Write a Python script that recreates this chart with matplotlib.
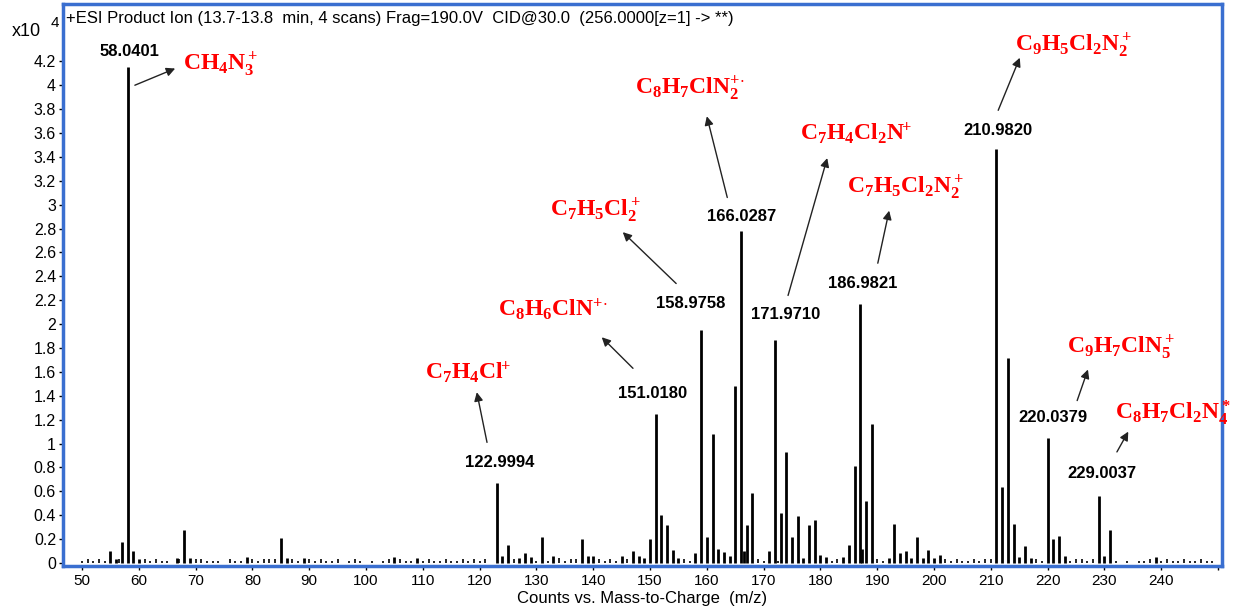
import matplotlib
matplotlib.use("Agg")
import matplotlib.pyplot as plt
import numpy as np

plt.rcParams['font.family'] = ['Liberation Sans', 'DejaVu Sans']
plt.rcParams['mathtext.fontset'] = 'custom'
plt.rcParams['mathtext.rm'] = 'Liberation Serif:bold'
plt.rcParams['mathtext.it'] = 'Liberation Serif:bold'
plt.rcParams['mathtext.bf'] = 'Liberation Serif:bold'
plt.rcParams['mathtext.fallback'] = 'stix'

# ── spectrum peaks (m/z, counts x10^4) ─────────────────────────────────────────
peak_mz = [55.0, 56.0, 57.0, 58.0401, 59.0, 60.0, 66.8, 68.0, 69.0, 79.0,
           85.0, 86.0, 89.0, 105.0, 109.0, 122.9994, 124.0, 125.0, 127.0, 128.0,
           129.0, 131.0, 133.0, 138.0, 139.0, 140.0, 145.0, 147.0, 148.0, 149.0,
           150.0, 151.0180, 152.0, 153.0, 154.0, 155.0, 158.0, 158.9758, 160.0, 161.0,
           162.0, 163.0, 164.0, 165.0, 166.0287, 166.5, 167.0, 168.0, 171.0, 171.9710,
           173.0, 174.0, 175.0, 176.0, 177.0, 178.0, 179.0, 180.0, 181.0, 184.0,
           185.0, 186.0, 186.9821, 187.4, 188.0, 189.0, 192.0, 193.0, 194.0, 195.0,
           196.0, 197.0, 198.0, 199.0, 200.0, 201.0, 210.9820, 212.0, 213.0, 214.0,
           215.0, 216.0, 217.0, 220.0379, 221.0, 222.0, 223.0, 229.0037, 230.0, 231.0,
           239.0]
peak_int = [0.10, 0.03, 0.18, 4.15, 0.10, 0.03, 0.04, 0.28, 0.04, 0.05,
            0.21, 0.04, 0.04, 0.05, 0.04, 0.67, 0.06, 0.15, 0.04, 0.08,
            0.05, 0.22, 0.06, 0.20, 0.06, 0.06, 0.06, 0.10, 0.06, 0.04,
            0.20, 1.25, 0.40, 0.32, 0.11, 0.04, 0.08, 1.95, 0.22, 1.08,
            0.12, 0.09, 0.06, 1.48, 2.78, 0.10, 0.32, 0.59, 0.10, 1.87,
            0.42, 0.93, 0.22, 0.39, 0.04, 0.32, 0.36, 0.07, 0.05, 0.05,
            0.15, 0.81, 2.17, 0.12, 0.52, 1.16, 0.04, 0.33, 0.08, 0.10,
            0.04, 0.22, 0.04, 0.11, 0.04, 0.07, 3.47, 0.64, 1.72, 0.33,
            0.05, 0.14, 0.04, 1.05, 0.20, 0.23, 0.06, 0.56, 0.06, 0.28,
            0.05]

# baseline noise
noise_mz = [50, 51, 52, 53, 54, 56.5, 61, 62, 63, 64, 65, 67, 70, 71, 72, 73, 74,
            76, 77, 78, 80, 81, 82, 83, 84, 87, 88, 90, 91, 92, 93, 94, 95, 97, 98,
            99, 101, 103, 104, 106, 107, 108, 110, 111, 112, 113, 114, 115, 116, 117,
            118, 119, 120, 121, 126, 130, 132, 134, 135, 136, 137, 141, 142, 143, 144,
            146, 156, 157, 169, 170, 172.5, 182, 183, 190, 191, 202, 203, 204, 205, 206,
            207, 208, 209, 210, 218, 219, 224, 225, 226, 227, 228, 232, 234, 236, 237,
            238, 240, 241, 242, 243, 244, 245, 246, 247, 248, 249]
noise_int = [0.02, 0.03, 0.02, 0.03, 0.02, 0.03, 0.03, 0.02, 0.03, 0.02, 0.02, 0.03,
             0.03, 0.03, 0.02, 0.02, 0.02, 0.03, 0.02, 0.02, 0.03, 0.02, 0.03, 0.03,
             0.03, 0.03, 0.02, 0.03, 0.02, 0.03, 0.02, 0.02, 0.03, 0.02, 0.03, 0.02,
             0.02, 0.02, 0.03, 0.03, 0.02, 0.02, 0.02, 0.03, 0.02, 0.02, 0.03, 0.02,
             0.02, 0.03, 0.02, 0.03, 0.02, 0.03, 0.03, 0.02, 0.02, 0.04, 0.02, 0.03,
             0.03, 0.03, 0.02, 0.03, 0.02, 0.03, 0.03, 0.02, 0.03, 0.02, 0.02, 0.02,
             0.03, 0.03, 0.02, 0.03, 0.02, 0.03, 0.02, 0.02, 0.03, 0.02, 0.03, 0.03,
             0.03, 0.02, 0.02, 0.03, 0.03, 0.02, 0.03, 0.02, 0.02, 0.02, 0.02, 0.03,
             0.02, 0.03, 0.02, 0.02, 0.03, 0.02, 0.02, 0.03, 0.02, 0.02]

# ── peak labels (text, x, y) ───────────────────────────────────────────────────
mz_labels = ['58.0401', '122.9994', '151.0180', '158.9758', '166.0287',
             '171.9710', '186.9821', '210.9820', '220.0379', '229.0037']
mz_label_x = [58.4, 123.6, 150.4, 157.2, 166.2, 173.9, 187.5, 211.3, 220.95, 229.6]
mz_label_y = [4.28, 0.845, 1.42, 2.17, 2.90, 2.08, 2.34, 3.62, 1.22, 0.75]

# ── fragment formulas and their arrows ────────────────────────────────────────
formulas = [r'$\mathrm{CH_4N_3^+}$', r'$\mathrm{C_8H_7ClN_2^{+\!\cdot}}$',
            r'$\mathrm{C_7H_5Cl_2^+}$', r'$\mathrm{C_7H_4Cl_2N^{\!\!+}}$',
            r'$\mathrm{C_7H_5Cl_2N_2^+}$', r'$\mathrm{C_9H_5Cl_2N_2^+}$',
            r'$\mathrm{C_8H_6ClN^{+\!\cdot}}$', r'$\mathrm{C_7H_4Cl^{\!\!+}}$',
            r'$\mathrm{C_9H_7ClN_5^+}$', r'$\mathrm{C_8H_7Cl_2N_4^*}$']
formula_x = [67.8, 147.4, 132.4, 176.4, 184.7, 214.3, 123.2, 110.4, 223.4, 231.9]
formula_y = [4.17, 3.97, 2.95, 3.60, 3.14, 4.33, 2.13, 1.60, 1.80, 1.26]
arrow_from = [(59.3, 4.00), (163.6, 3.06), (154.6, 2.34), (174.3, 2.24), (190.1, 2.51),
              (211.3, 3.79), (147.0, 1.63), (121.3, 1.01), (225.2, 1.36), (232.2, 0.93)]
arrow_to = [(66.4, 4.14), (160.0, 3.74), (145.2, 2.77), (181.2, 3.39), (192.1, 2.95),
            (215.1, 4.23), (141.5, 1.89), (119.5, 1.43), (227.1, 1.62), (234.2, 1.10)]

xticks = np.arange(50, 251, 10)
yticks = np.arange(0, 4.21, 0.2)

W, H = 1239, 611
fig = plt.figure(figsize=(W / 100, H / 100), dpi=100)
ax = fig.add_axes([63 / W, 1 - 566 / H, (1222 - 63) / W, (566 - 4) / H])

ax.vlines(noise_mz, 0, noise_int, color='black', lw=1.2)
ax.vlines(peak_mz, 0, peak_int, color='black', lw=2.0)

ax.set_xlim(46.65, 250.7)
ax.set_ylim(-0.025, 4.68)

ax.set_xticks(xticks)
ax.set_xticklabels([str(v) if v < 250 else '' for v in xticks], fontsize=11)
ax.set_yticks(yticks)
ax.set_yticklabels([f'{v:g}' for v in np.round(yticks, 1)], fontsize=11.5)
ax.tick_params(axis='both', direction='out', length=3, width=1, color='black')
ax.tick_params(axis='x', pad=3)
ax.tick_params(axis='y', pad=2)

for s in ax.spines.values():
    s.set_color('#3a6fd0')
    s.set_linewidth(2.5)

ax.set_xlabel('Counts vs. Mass-to-Charge  (m/z)', fontsize=12, labelpad=2)

ax.text(0.003, 0.988, '+ESI Product Ion (13.7-13.8  min, 4 scans) Frag=190.0V  CID@30.0  (256.0000[z=1] -> **)',
        transform=ax.transAxes, ha='left', va='top', fontsize=12)
fig.text(12 / W, 1 - 31 / H, 'x10', ha='left', va='center', fontsize=13)
fig.text(51 / W, 1 - 23 / H, '4', ha='left', va='center', fontsize=11)

for t, x, y in zip(mz_labels, mz_label_x, mz_label_y):
    ax.text(x, y, t, ha='center', va='center', fontsize=12, fontweight='bold')

for f, x, y in zip(formulas, formula_x, formula_y):
    ax.text(x, y, f, ha='left', va='center', fontsize=17, color='red', clip_on=False)

for a, b in zip(arrow_from, arrow_to):
    ax.annotate('', xy=b, xytext=a,
                arrowprops=dict(arrowstyle='-|>', color='#222222', lw=1.0,
                                mutation_scale=13, shrinkA=0, shrinkB=0))

fig.savefig('out.png', dpi=100)
